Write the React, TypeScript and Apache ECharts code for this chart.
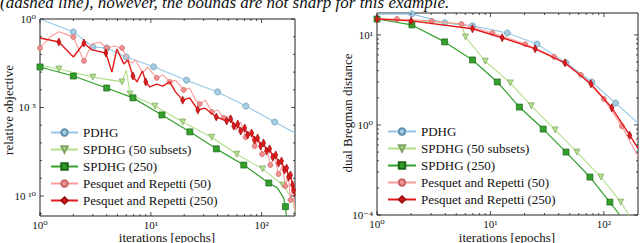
import React, { useEffect, useRef } from 'react';
import * as echarts from 'echarts';

const names = ['PDHG', 'SPDHG (50 subsets)', 'SPDHG (250)', 'Pesquet and Repetti (50)', 'Pesquet and Repetti (250)'];

// ---------- Left panel: relative objective ----------
const objPdhgX = [1, 2, 3, 4, 6, 10.6, 21, 40, 72, 131, 200];
const objPdhgY = [1, 0.186, 0.026, 0.023, 0.0071, 0.002, 3.5e-4, 7.6e-5, 1.2e-5, 1.5e-6, 3.6e-7];
const objPdhgMarks = [1, 2, 3, 4, 5, 6, 7, 8, 9];

const objS50X = [1, 1.48, 3, 5.5, 6, 6.5, 10.9, 19.4, 35.4, 59.6, 102, 155, 190, 200];
const objS50Y = [2.5e-3, 1.5e-3, 5.2e-4, 2.8e-4, 1.3e-3, 5.8e-5, 1.2e-5, 1.5e-6, 2.1e-7, 2.3e-8, 3.4e-9, 4.2e-10, 6.3e-11, 1.26e-11];
const objS50Marks = [1, 2, 3, 5, 6, 7, 8, 9, 10, 11];

const objS250X = [1, 2, 4, 6.9, 12.6, 22.5, 39, 69, 116, 139, 158, 164, 172];
const objS250Y = [1.95e-3, 6.0e-4, 1.26e-4, 3.5e-5, 3.8e-6, 4.2e-7, 4.6e-8, 5.6e-9, 5.4e-10, 2.8e-10, 7.8e-11, 2.5e-11, 1e-12];
const objS250Marks = [0, 1, 2, 3, 4, 5, 6, 7, 8, 11];

const objPr50X = [1, 1.23, 1.48, 1.71, 2, 2.49, 2.94, 3.47, 4, 4.73, 5.5, 6.08, 6.75, 7.3, 8.4, 9.4, 10.2, 11.3, 12.8, 14.8, 16.7, 19.8, 22.4, 25.4, 27.6, 31.2, 35.5, 40.1, 45.5, 51.5, 58.5, 64.7, 71.7, 78, 86.5, 94, 101, 111, 120, 130, 142, 154, 164, 175, 182, 190, 200];
const objPr50Y = [2.3e-2, 9.6e-2, 0.19, 0.14, 9.6e-2, 4.3e-3, 3.9e-2, 5.0e-2, 2.3e-2, 3.0e-2, 2.3e-2, 6.3e-3, 3.2e-3, 4.8e-3, 8.9e-4, 1.95e-3, 1.0e-3, 4.7e-4, 6.9e-4, 2.8e-4, 3.5e-4, 9.8e-5, 1.26e-4, 2.6e-5, 1.58e-5, 2.6e-5, 5.6e-6, 7.2e-6, 2.6e-6, 3.3e-6, 7.9e-7, 1.5e-6, 2.1e-7, 4.7e-7, 6.6e-8, 1.45e-7, 2.3e-8, 5.1e-8, 5.6e-9, 1.58e-8, 1.74e-9, 4.9e-9, 3.6e-10, 1.35e-9, 5.9e-11, 2.8e-10, 1.6e-11];
const objPr50Marks = [0, 4, 5, 8, 10, 17, 19, 21, 24, 26, 28, 30, 32, 34, 36, 38, 40, 42, 44];

const objPr250X = [1, 1.48, 2, 2.49, 2.94, 3.93, 4.45, 4.94, 5.7, 6.2, 6.9, 7.5, 8.4, 9.0, 9.8, 11.3, 12.8, 14.8, 16.7, 19.4, 22.4, 26.6, 30.6, 39, 48.4, 52.6, 56, 60.8, 64.7, 70.3, 74.8, 81.3, 86.5, 92, 98, 104, 111, 118, 126, 134, 142, 151, 161, 168, 175, 182, 190, 194, 200];
const objPr250Y = [8.5e-2, 5.0e-2, 7.1e-3, 4.4e-2, 1.8e-2, 1.2e-2, 1.0e-3, 2.0e-2, 2.9e-3, 4.8e-3, 6.0e-4, 2.8e-4, 1.15e-3, 2.8e-4, 1.45e-4, 2.1e-4, 1.6e-4, 2.8e-4, 7.6e-5, 2.6e-5, 3.5e-5, 7.2e-6, 9.3e-6, 2.9e-6, 1.74e-6, 2.24e-6, 8.9e-7, 1.17e-6, 4.7e-7, 6.9e-7, 2.8e-7, 3.6e-7, 1.45e-7, 1.9e-7, 6.6e-8, 1.0e-7, 3.5e-8, 4.6e-8, 1.58e-8, 2.1e-8, 7.2e-9, 9.5e-9, 2.95e-9, 3.8e-9, 1.17e-9, 1.55e-9, 4.2e-10, 2.2e-10, 1e-10];
const objPr250Marks = [1, 3, 5, 10, 13, 19, 21, 23, 24, 25, 26, 27, 28, 29, 30, 31, 32, 33, 34, 35, 36, 37, 38, 39, 40, 41, 42, 43, 44, 45, 46, 47];

// ---------- Right panel: dual Bregman distance ----------
const brPdhgX = [1, 2.03, 3.95, 6.95, 14.1, 25.8, 46.4, 78.5, 127, 200];
const brPdhgY = [17.0, 17.1, 13.6, 12.6, 10.5, 7.9, 4.9, 3.0, 1.75, 1.05];
const brPdhgMarks = [1, 2, 3, 4, 5, 6, 7, 8];

const brS50X = [1, 2, 5.56, 6.03, 9.0, 14.96, 22.9, 37.2, 57.9, 94.3, 141, 166];
const brS50Y = [15.0, 14.5, 13.2, 9.5, 5.1, 2.93, 1.63, 0.88, 0.5, 0.264, 0.139, 0.1];
const brS50Marks = [3, 4, 5, 6, 7, 8, 9, 10];

const brS250X = [1, 2.03, 3.95, 6.95, 11.5, 18, 29.2, 46.4, 75.4, 113, 138];
const brS250Y = [15.0, 12.9, 8.36, 5.27, 3.0, 1.58, 0.9, 0.5, 0.264, 0.139, 0.1];
const brS250Marks = [0, 1, 2, 3, 4, 5, 6, 7, 8, 9];

const brPr50X = [1, 1.5, 3.04, 5.56, 10.4, 20.3, 36.4, 62.8, 100, 144, 200];
const brPr50Y = [15.0, 15.0, 14.3, 13.2, 10.5, 7.9, 5.7, 3.6, 1.94, 0.97, 0.45];
const brPr50Marks = [1, 2, 3, 4, 5, 6, 7, 8, 9];

const brPr250X = [1, 2, 6.95, 12.7, 24.8, 45.4, 77, 117.5, 169, 200];
const brPr250Y = [15.0, 14.3, 11.7, 9.3, 7.0, 4.9, 2.86, 1.55, 0.77, 0.55];
const brPr250Marks = [0, 1, 2, 3, 4, 5, 6, 7, 8];

// ---------- tick labels ----------
const xTickValues = [1, 10, 100];
const xTickLabels = ['10⁰', '10¹', '10²'];
const objTickValues = [1, 1e-5, 1e-10];
const objTickLabels = ['10⁰', '10 ⁵', '10 ¹⁰'];
const brTickValues = [10, 1, 0.1];
const brTickLabels = ['10¹', '10⁰', '10⁻⁴'];

const FONT = '"Liberation Serif", "DejaVu Serif", serif';

const styles = [
  { line: '#93c6e6', fill: '#a6cee3', border: '#5f8fae', symbol: 'circle', size: 6, width: 1.1 },
  { line: '#b2df8a', fill: '#b2df8a', border: '#7ea464', symbol: 'path://M0,0 L10,0 L5,9 Z', size: 6, width: 1.1 },
  { line: '#33a02c', fill: '#33a02c', border: '#1c6618', symbol: 'rect', size: 6, width: 1.2 },
  { line: '#fb9a99', fill: '#f4908f', border: '#c66565', symbol: 'circle', size: 5, width: 1.1 },
  { line: '#e31a1c', fill: '#e31a1c', border: '#9c1010', symbol: 'path://M5,0 L9,10 L5,20 L1,10 Z', size: [4, 8], width: 1.4 },
];

function build(xs: number[], ys: number[], marks: number[]) {
  const set = new Set(marks);
  return xs.map((x, i) => (set.has(i) ? { value: [x, ys[i]] } : { value: [x, ys[i]], symbol: 'none' }));
}

function mkSeries(k: number, grid: number, xs: number[], ys: number[], marks: number[]) {
  const s = styles[k];
  return {
    name: names[k],
    type: 'line',
    xAxisIndex: grid,
    yAxisIndex: grid,
    data: build(xs, ys, marks),
    symbol: s.symbol,
    symbolSize: s.size,
    showSymbol: true,
    lineStyle: { color: s.line, width: s.width },
    itemStyle: { color: s.fill, borderColor: s.border, borderWidth: 0.7 },
    clip: true,
    z: 2 + k,
  };
}

export default function App() {
  const ref = useRef<HTMLDivElement>(null);
  useEffect(() => {
    if (!ref.current) return;
    const chart = echarts.init(ref.current, null, { renderer: 'svg' });
    const axisHidden = {
      axisLine: { show: false },
      axisTick: { show: false },
      axisLabel: { show: false },
      splitLine: { show: false },
    };
    const legendBase = {
      orient: 'vertical',
      padding: 0,
      itemHeight: 8,
      itemGap: 4,
      data: names,
      selectedMode: false,
      textStyle: { fontFamily: FONT, fontSize: 13, color: '#111', lineHeight: 12.5 },
    };
    chart.setOption({
      animation: false,
      backgroundColor: '#fff',
      textStyle: { fontFamily: FONT },
      grid: [
        { left: 40, top: 19, width: 255, height: 197, show: true, borderColor: '#222', borderWidth: 1, backgroundColor: 'transparent' },
        { left: 377, top: 13, width: 261, height: 202, show: true, borderColor: '#222', borderWidth: 1, backgroundColor: 'transparent' },
      ],
      xAxis: [
        { type: 'log', logBase: 10, gridIndex: 0, min: 1, max: 200, ...axisHidden },
        { type: 'log', logBase: 10, gridIndex: 1, min: 1, max: 200, ...axisHidden },
      ],
      yAxis: [
        { type: 'log', logBase: 10, gridIndex: 0, min: 7.4e-12, max: 1, ...axisHidden },
        { type: 'log', logBase: 10, gridIndex: 1, min: 0.1, max: 17.5, ...axisHidden },
      ],
      legend: [
        { ...legendBase, left: 50, top: 126, itemWidth: 27 },
        { ...legendBase, left: 387, top: 125, itemWidth: 28 },
      ],
      series: [
        mkSeries(0, 0, objPdhgX, objPdhgY, objPdhgMarks),
        mkSeries(1, 0, objS50X, objS50Y, objS50Marks),
        mkSeries(2, 0, objS250X, objS250Y, objS250Marks),
        mkSeries(3, 0, objPr50X, objPr50Y, objPr50Marks),
        mkSeries(4, 0, objPr250X, objPr250Y, objPr250Marks),
        mkSeries(0, 1, brPdhgX, brPdhgY, brPdhgMarks),
        mkSeries(1, 1, brS50X, brS50Y, brS50Marks),
        mkSeries(2, 1, brS250X, brS250Y, brS250Marks),
        mkSeries(3, 1, brPr50X, brPr50Y, brPr50Marks),
        mkSeries(4, 1, brPr250X, brPr250Y, brPr250Marks),
      ],
    });

    const g: any[] = [];
    const tickStyle = { stroke: '#222', lineWidth: 0.8 };
    const line = (x1: number, y1: number, x2: number, y2: number) =>
      g.push({ type: 'line', silent: true, z: 100, shape: { x1, y1, x2, y2 }, style: tickStyle });
    const text = (t: string, x: number, y: number, align: string, va: string, size = 11, extra: any = {}) =>
      g.push({ type: 'text', silent: true, z: 100, x, y, ...extra, style: { text: t, fontFamily: FONT, fontSize: size, fill: '#111', align, verticalAlign: va } });

    const panels = [
      { idx: 0, left: 40, right: 295, top: 19, bottom: 216, yMajor: objTickValues, yLabels: objTickLabels,
        yMinor: [1e-1, 1e-2, 1e-3, 1e-4, 1e-6, 1e-7, 1e-8, 1e-9, 1e-11] },
      { idx: 1, left: 377, right: 638, top: 13, bottom: 215, yMajor: brTickValues, yLabels: brTickLabels,
        yMinor: [0.2, 0.3, 0.4, 0.5, 0.6, 0.7, 0.8, 0.9, 2, 3, 4, 5, 6, 7, 8, 9] },
    ];
    const xMinor = [2, 3, 4, 5, 6, 7, 8, 9, 20, 30, 40, 50, 60, 70, 80, 90];
    panels.forEach((p) => {
      const px = (v: number) => chart.convertToPixel({ xAxisIndex: p.idx }, v) as number;
      const py = (v: number) => chart.convertToPixel({ yAxisIndex: p.idx }, v) as number;
      xTickValues.forEach((v, i) => {
        const x = px(v);
        line(x, p.bottom, x, p.bottom - 4);
        line(x, p.top, x, p.top + 4);
        text(xTickLabels[i], x, p.bottom + 3, 'center', 'top');
      });
      xMinor.forEach((v) => {
        const x = px(v);
        line(x, p.bottom, x, p.bottom - 2);
        line(x, p.top, x, p.top + 2);
      });
      p.yMajor.forEach((v, i) => {
        const y = py(v);
        line(p.left, y, p.left + 4, y);
        line(p.right, y, p.right - 4, y);
        text(p.yLabels[i], p.left - 4, y, 'right', 'middle');
      });
      p.yMinor.forEach((v) => {
        const y = py(v);
        line(p.left, y, p.left + 2, y);
        line(p.right, y, p.right - 2, y);
      });
    });
    // axis titles
    text('iterations [epochs]', 167, 237, 'center', 'middle', 13);
    text('iterations [epochs]', 507, 237, 'center', 'middle', 13);
    text('relative objective', 8, 110, 'center', 'middle', 13, { rotation: Math.PI / 2 });
    text('dual Bregman distance', 347, 113, 'center', 'middle', 13, { rotation: Math.PI / 2 });
    // cropped caption line at the top (cut by the top edge, as in the source image)
    g.push({
      type: 'text', silent: true, z: 100, x: 0, y: 11,
      style: { text: '(dashed line), however, the bounds are not sharp for this example.', fontFamily: FONT, fontStyle: 'italic', fontSize: 17, fill: '#111', align: 'left', verticalAlign: 'bottom' },
    });
    chart.setOption({ graphic: g });
    return () => chart.dispose();
  }, []);
  return <div ref={ref} style={{ position: 'fixed', left: 0, top: 0, width: 640, height: 243 }} />;
}
